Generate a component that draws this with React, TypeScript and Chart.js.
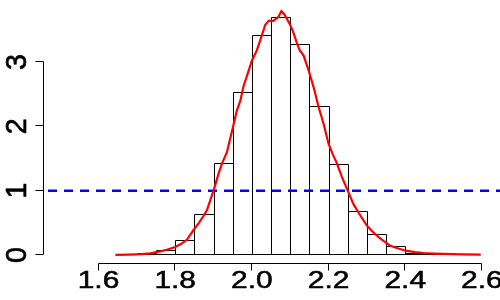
import React, { useEffect, useRef } from "react";
import { Chart, registerables } from "chart.js";

Chart.register(...registerables);

// Histogram bins (centers) and densities
const binCenters = [1.725, 1.775, 1.825, 1.875, 1.925, 1.975, 2.025, 2.075, 2.125, 2.175, 2.225, 2.275, 2.325, 2.375, 2.425, 2.475];
const binDensity = [0.008, 0.06, 0.22, 0.62, 1.42, 2.52, 3.40, 3.69, 3.26, 2.30, 1.40, 0.67, 0.31, 0.125, 0.008, 0.006];

// Kernel density curve
const densX = [1.644, 1.68, 1.713, 1.735, 1.761, 1.78, 1.80, 1.815, 1.831, 1.848, 1.862, 1.874, 1.883, 1.891, 1.900, 1.913, 1.922, 1.935, 1.950, 1.961, 1.970, 1.978, 1.987, 2.000, 2.013, 2.022, 2.035, 2.044, 2.056, 2.069, 2.077, 2.085, 2.098, 2.107, 2.117, 2.125, 2.135, 2.148, 2.161, 2.174, 2.187, 2.200, 2.210, 2.222, 2.235, 2.250, 2.265, 2.278, 2.300, 2.317, 2.330, 2.343, 2.361, 2.382, 2.401, 2.425, 2.448, 2.475, 2.500, 2.550, 2.597];
const densY = [0.003, 0.007, 0.015, 0.025, 0.056, 0.085, 0.125, 0.17, 0.24, 0.39, 0.50, 0.61, 0.70, 0.84, 1.00, 1.26, 1.42, 1.60, 1.97, 2.25, 2.40, 2.62, 2.78, 3.02, 3.18, 3.34, 3.58, 3.64, 3.64, 3.70, 3.79, 3.74, 3.60, 3.48, 3.30, 3.18, 3.10, 2.87, 2.61, 2.30, 2.04, 1.73, 1.58, 1.42, 1.21, 1.00, 0.79, 0.66, 0.456, 0.35, 0.28, 0.22, 0.145, 0.10, 0.067, 0.045, 0.031, 0.022, 0.016, 0.009, 0.005];

// Reference line
const refLevel = 1;

// Axis ticks
const xTicks = [1.6, 1.8, 2.0, 2.2, 2.4, 2.6];
const xTickLabels = ["1.6", "1.8", "2.0", "2.2", "2.4", "2.6"];
const yTicks = [0, 1, 2, 3];
const yTickLabels = ["0", "1", "2", "3"];

const X_MIN = 1.4552;
const X_MAX = 2.6472;
const Y_MIN = -0.1399;
const Y_MAX = 3.964;

const snap = (v: number) => Math.round(v) - 0.5;

// crisp 1px outlines for histogram bars, drawn right after the bar dataset
const barOutlinePlugin = {
  id: "barOutline",
  afterDatasetDraw(chart: any, args: any) {
    const meta = args.meta;
    if (meta.type !== "bar") return;
    const ctx = chart.ctx;
    ctx.save();
    ctx.strokeStyle = "#000";
    ctx.lineWidth = 1;
    ctx.beginPath();
    meta.data.forEach((el: any) => {
      const p = el.getProps(["x", "y", "base", "width"], true);
      const l = Math.round(p.x - p.width / 2) + 0.5;
      const r = Math.round(p.x + p.width / 2) + 0.5;
      const t = Math.round(p.y) - 0.5;
      const b = Math.round(p.base) - 0.5;
      ctx.rect(l, t, r - l, b - t);
    });
    ctx.stroke();
    ctx.restore();
  },
};

const rAxesPlugin = {
  id: "rAxes",
  afterDraw(chart: any) {
    const ctx = chart.ctx;
    const xs = chart.scales.x;
    const ys = chart.scales.y;
    const area = chart.chartArea;
    ctx.save();
    ctx.strokeStyle = "#000";
    ctx.lineWidth = 1;
    ctx.fillStyle = "#000";

    // Y axis
    const yAxisX = area.left + 0.5;
    const y0 = snap(ys.getPixelForValue(yTicks[0]));
    const y1 = snap(ys.getPixelForValue(yTicks[yTicks.length - 1]));
    ctx.beginPath();
    ctx.moveTo(yAxisX, y0);
    ctx.lineTo(yAxisX, y1);
    yTicks.forEach((t) => {
      const py = snap(ys.getPixelForValue(t));
      ctx.moveTo(yAxisX, py);
      ctx.lineTo(yAxisX - 8, py);
    });
    ctx.stroke();

    ctx.font = "22px 'Liberation Sans', Arial, sans-serif";
    ctx.textAlign = "center";
    ctx.textBaseline = "alphabetic";
    ctx.lineWidth = 0.5;
    ctx.lineJoin = "round";
    yTicks.forEach((t, i) => {
      const py = ys.getPixelForValue(t);
      ctx.save();
      ctx.translate(26, py);
      ctx.rotate(-Math.PI / 2);
      ctx.scale(1.3, 1.36);
      ctx.fillText(yTickLabels[i], 0, 0);
      ctx.strokeText(yTickLabels[i], 0, 0);
      ctx.restore();
    });

    // X axis
    ctx.lineWidth = 1;
    const xAxisY = area.bottom - 0.5;
    const xa = snap(xs.getPixelForValue(xTicks[0]));
    const xb = snap(xs.getPixelForValue(xTicks[xTicks.length - 1]));
    ctx.beginPath();
    ctx.moveTo(xa, xAxisY);
    ctx.lineTo(xb, xAxisY);
    xTicks.forEach((t) => {
      const px = snap(xs.getPixelForValue(t));
      ctx.moveTo(px, xAxisY);
      ctx.lineTo(px, xAxisY + 7);
    });
    ctx.stroke();

    ctx.lineWidth = 0.5;
    xTicks.forEach((t, i) => {
      const px = xs.getPixelForValue(t);
      ctx.save();
      ctx.translate(px, 288);
      ctx.scale(1.36, 1.05);
      ctx.fillText(xTickLabels[i], 0, 0);
      ctx.strokeText(xTickLabels[i], 0, 0);
      ctx.restore();
    });
    ctx.restore();
  },
};

export default function App() {
  const ref = useRef<HTMLCanvasElement | null>(null);

  useEffect(() => {
    document.body.style.margin = "0";
    const canvas = ref.current;
    if (!canvas) return;
    const chart = new Chart(canvas, {
      type: "bar",
      data: {
        datasets: [
          {
            type: "line",
            data: densX.map((x, i) => ({ x, y: densY[i] })),
            borderColor: "#ff0000",
            borderWidth: 2.2,
            pointRadius: 0,
            tension: 0,
            fill: false,
            order: 1,
          } as any,
          {
            type: "line",
            data: [
              { x: X_MIN, y: refLevel },
              { x: X_MAX, y: refLevel },
            ],
            borderColor: "#0000ff",
            borderWidth: 2.5,
            borderDash: [9, 7],
            borderDashOffset: 11,
            pointRadius: 0,
            fill: false,
            order: 2,
          } as any,
          {
            type: "bar",
            data: binCenters.map((x, i) => ({ x, y: binDensity[i] })),
            backgroundColor: "#ffffff",
            borderWidth: 0,
            barPercentage: 1,
            categoryPercentage: 1,
            inflateAmount: 0,
            order: 3,
          } as any,
        ],
      },
      options: {
        responsive: false,
        animation: false,
        layout: { padding: { left: 43, right: 0, top: 0, bottom: 36 } },
        plugins: { legend: { display: false }, tooltip: { enabled: false } },
        scales: {
          x: { type: "linear", min: X_MIN, max: X_MAX, display: false, offset: false, grid: { display: false } },
          y: { type: "linear", min: Y_MIN, max: Y_MAX, display: false, grid: { display: false } },
        },
      },
      plugins: [barOutlinePlugin, rAxesPlugin],
    });
    return () => chart.destroy();
  }, []);

  return (
    <div style={{ width: 500, height: 300, background: "#fff" }}>
      <canvas ref={ref} width={500} height={300} style={{ display: "block" }} />
    </div>
  );
}
